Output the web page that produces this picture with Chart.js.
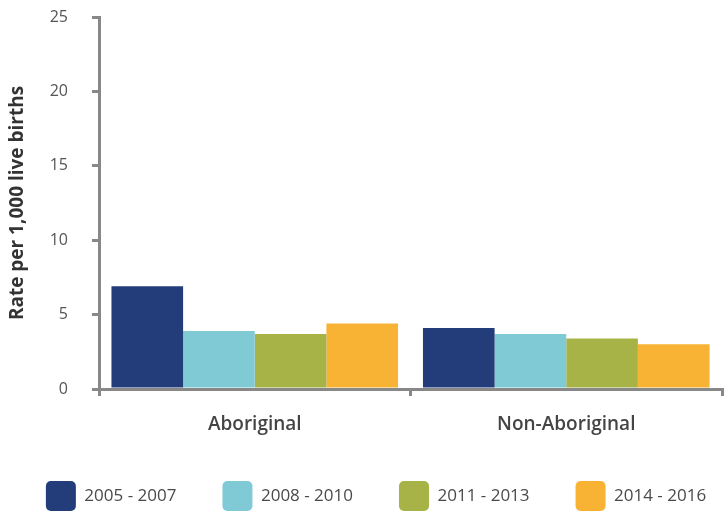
<!DOCTYPE html>
<html>
<head>
<meta charset="utf-8">
<script src="https://cdn.jsdelivr.net/npm/chart.js@4/dist/chart.umd.min.js"></script>
<style>
  html, body { margin: 0; padding: 0; background: #fff; }
  #wrap { width: 724px; height: 511px; }
</style>
</head>
<body>
<div id="wrap"><canvas id="c" width="724" height="511"></canvas></div>
<script>
const categories = ['Aboriginal', 'Non-Aboriginal'];
const periods = ['2005 - 2007', '2008 - 2010', '2011 - 2013', '2014 - 2016'];
const values2005_2007 = [6.9, 4.1];
const values2008_2010 = [3.9, 3.7];
const values2011_2013 = [3.7, 3.4];
const values2014_2016 = [4.4, 3.0];
const seriesColors = ['#233D7B', '#80CAD5', '#A8B347', '#F8B334'];
const yTicks = [0, 5, 10, 15, 20, 25];
const yTitle = 'Rate per 1,000 live births';

const seriesValues = [values2005_2007, values2008_2010, values2011_2013, values2014_2016];
const axisGrey = '#888888';
const FONT = "'Open Sans', sans-serif";
const LEFT_PAD = -60;

const legendShift = {
  id: 'legendShift',
  afterLayout(chart) {
    if (chart.legend) { chart.legend.left += 45; chart.legend.right += 45; }
  }
};

new Chart(document.getElementById('c'), {
  type: 'bar',
  data: {
    labels: categories,
    datasets: periods.map((p, i) => ({
      label: p,
      data: seriesValues[i],
      backgroundColor: seriesColors[i],
      borderWidth: 0,
      categoryPercentage: 0.92,
      barPercentage: 1.0
    }))
  },
  options: {
    responsive: false,
    animation: false,
    layout: { padding: { top: 17, right: 2, left: LEFT_PAD, bottom: -10 } },
    plugins: {
      tooltip: { enabled: false },
      legend: {
        position: 'bottom',
        labels: {
          boxWidth: 30,
          boxHeight: 30,
          padding: 46,
          color: '#4a4a4a',
          font: { family: FONT, size: 17, weight: '400' },
          generateLabels(chart) {
            return chart.data.datasets.map((ds, i) => ({
              text: ds.label,
              fillStyle: ds.backgroundColor,
              strokeStyle: ds.backgroundColor,
              lineWidth: 0,
              borderRadius: 5,
              hidden: false,
              datasetIndex: i,
              fontColor: '#4a4a4a'
            }));
          }
        }
      }
    },
    scales: {
      x: {
        afterFit(scale) { scale.height = 46; },
        grid: {
          offset: true,
          drawOnChartArea: false,
          drawTicks: true,
          tickLength: 7,
          color: axisGrey,
          lineWidth: 3
        },
        border: { display: true, color: axisGrey, width: 3 },
        ticks: {
          padding: 17,
          color: '#444444',
          font: { family: FONT, size: 19, weight: '600' }
        }
      },
      y: {
        min: 0,
        max: 25,
        afterFit(scale) {
          scale.width = 99 - LEFT_PAD;
          scale.paddingTop = 0;
          scale.paddingBottom = 0;
        },
        afterBuildTicks(scale) { scale.ticks = yTicks.map(v => ({ value: v })); },
        grid: {
          drawOnChartArea: false,
          drawTicks: true,
          tickLength: 7,
          color: axisGrey,
          lineWidth: 3
        },
        border: { display: true, color: axisGrey, width: 3 },
        ticks: {
          padding: 24,
          color: '#555555',
          font: { family: FONT, size: 16, weight: '400' }
        },
        title: {
          display: true,
          text: yTitle,
          color: '#333333',
          padding: { top: 6 - LEFT_PAD, bottom: 0 },
          font: { family: FONT, size: 19, weight: '700' }
        }
      }
    }
  },
  plugins: [legendShift]
});
</script>
</body>
</html>
